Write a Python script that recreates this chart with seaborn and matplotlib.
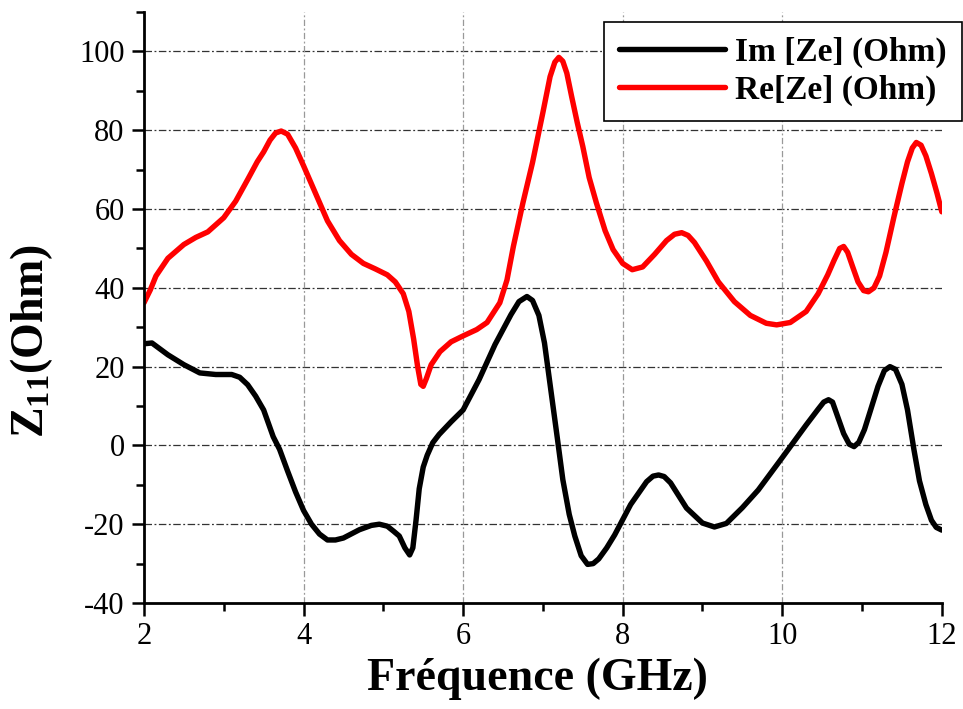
import numpy as np
import pandas as pd
import matplotlib
matplotlib.use("Agg")
import matplotlib.pyplot as plt
from matplotlib.ticker import MultipleLocator
from matplotlib.lines import Line2D
import seaborn as sns

# Imaginary part of the input impedance (Ohm) vs frequency (GHz)
freq_im = [2.0, 2.1, 2.3, 2.5, 2.7, 2.9, 3.1, 3.2, 3.3, 3.4, 3.5, 3.62, 3.7,
           3.8, 3.9, 4.0, 4.1, 4.2, 4.3, 4.4, 4.5, 4.7, 4.85, 4.95, 5.05, 5.13,
           5.2, 5.27, 5.33, 5.37, 5.41, 5.45, 5.5, 5.55, 5.62, 5.7, 5.85, 6.0,
           6.2, 6.4, 6.5, 6.6, 6.7, 6.8, 6.87, 6.95, 7.02, 7.1, 7.18, 7.25,
           7.33, 7.4, 7.48, 7.56, 7.63, 7.7, 7.8, 7.9, 8.1, 8.3, 8.38, 8.45,
           8.52, 8.6, 8.8, 9.0, 9.15, 9.3, 9.5, 9.7, 10.0, 10.3, 10.45, 10.52,
           10.58, 10.63, 10.7, 10.77, 10.84, 10.9, 10.96, 11.03, 11.1, 11.2,
           11.28, 11.35, 11.42, 11.5, 11.57, 11.65, 11.72, 11.8, 11.87, 11.93,
           12.0]
im_ze = [25.8, 26.0, 23.0, 20.5, 18.4, 18.0, 18.0, 17.3, 15.4, 12.5, 9.0, 2.2,
         -1.0, -6.5, -11.8, -16.5, -20.0, -22.5, -24.0, -24.0, -23.5, -21.4,
         -20.3, -20.0, -20.5, -21.8, -23.0, -26.0, -27.8, -26.0, -19.0, -11.0,
         -5.5, -2.5, 0.7, 2.8, 6.0, 9.0, 16.7, 25.6, 29.4, 33.2, 36.5, 37.8,
         36.8, 33.0, 26.0, 14.0, 2.0, -8.7, -17.5, -23.0, -28.0, -30.2, -30.0,
         -28.8, -26.0, -22.7, -15.0, -9.2, -7.8, -7.5, -7.9, -9.5, -15.9,
         -19.7, -20.7, -19.8, -15.8, -11.3, -3.1, 5.2, 9.2, 11.0, 11.6, 11.0,
         7.0, 3.0, 0.3, -0.3, 0.8, 4.0, 8.5, 15.0, 19.0, 20.0, 19.3, 15.5, 9.0,
         -1.0, -9.0, -15.0, -19.0, -20.8, -21.5]

# Real part of the input impedance (Ohm) vs frequency (GHz)
freq_re = [2.0, 2.08, 2.15, 2.3, 2.5, 2.65, 2.8, 3.0, 3.15, 3.3, 3.42, 3.5,
           3.58, 3.65, 3.72, 3.8, 3.9, 4.0, 4.15, 4.3, 4.45, 4.6, 4.75, 4.9,
           5.05, 5.15, 5.25, 5.32, 5.38, 5.43, 5.47, 5.5, 5.54, 5.6, 5.71,
           5.85, 6.0, 6.17, 6.3, 6.46, 6.55, 6.63, 6.75, 6.87, 7.0, 7.09, 7.15,
           7.2, 7.25, 7.3, 7.36, 7.43, 7.5, 7.58, 7.67, 7.78, 7.88, 8.0, 8.12,
           8.25, 8.4, 8.55, 8.65, 8.74, 8.82, 8.9, 9.05, 9.2, 9.4, 9.6, 9.8,
           9.93, 10.1, 10.3, 10.45, 10.57, 10.65, 10.72, 10.77, 10.82, 10.88,
           10.95, 11.02, 11.08, 11.15, 11.22, 11.3, 11.4, 11.5, 11.57, 11.63,
           11.68, 11.74, 11.8, 11.87, 11.94, 12.0]
re_ze = [36.2, 39.5, 43.0, 47.5, 51.0, 52.8, 54.2, 57.8, 62.0, 67.5, 72.0,
         74.5, 77.5, 79.3, 79.8, 79.0, 75.5, 71.0, 64.0, 57.0, 52.0, 48.5,
         46.2, 44.8, 43.3, 41.5, 38.5, 34.0, 27.0, 20.0, 15.5, 15.0, 17.0,
         20.5, 23.8, 26.3, 27.8, 29.4, 31.2, 36.2, 42.0, 50.5, 61.6, 71.8,
         84.5, 93.6, 97.3, 98.5, 97.5, 94.5, 88.6, 82.0, 75.9, 68.0, 61.6,
         54.5, 49.7, 46.2, 44.6, 45.3, 48.5, 52.0, 53.6, 54.0, 53.3, 51.5,
         46.8, 41.5, 36.5, 33.0, 31.0, 30.6, 31.2, 34.0, 38.5, 43.3, 47.0,
         50.0, 50.5, 49.0, 45.5, 41.5, 39.3, 39.0, 40.0, 43.0, 49.0, 58.0,
         66.5, 72.0, 75.5, 76.9, 76.2, 73.5, 69.0, 64.0, 59.3]

label_im = "Im [Ze] (Ohm)"
label_re = "Re[Ze] (Ohm)"

df = pd.concat([
    pd.DataFrame({"freq": freq_im, "z": im_ze, "part": label_im}),
    pd.DataFrame({"freq": freq_re, "z": re_ze, "part": label_re}),
], ignore_index=True)

sns.set_style("ticks")
plt.rcParams["font.family"] = ["Liberation Serif", "DejaVu Serif"]
plt.rcParams["mathtext.fontset"] = "custom"
plt.rcParams["mathtext.rm"] = "Liberation Serif"
plt.rcParams["mathtext.bf"] = "Liberation Serif:bold"
plt.rcParams["axes.unicode_minus"] = False
for key in ("text.color", "axes.labelcolor", "xtick.color", "ytick.color"):
    plt.rcParams[key] = "black"

fig = plt.figure(figsize=(9.63, 7.09), dpi=100)
ax = fig.add_axes([0.1495, 0.1495, 0.8285, 0.8335])

colors = {label_im: "black", label_re: "#ff0000"}
sns.lineplot(data=df, x="freq", y="z", hue="part", sort=False,
             palette=colors, linewidth=3.9, ax=ax, legend=False)
for ln in ax.lines:
    ln.set_solid_joinstyle("round")
    ln.set_solid_capstyle("round")

ax.set_xlim(2, 12)
ax.set_ylim(-40, 110)
ax.xaxis.set_major_locator(MultipleLocator(2))
ax.xaxis.set_minor_locator(MultipleLocator(1))
ax.yaxis.set_minor_locator(MultipleLocator(10))
ax.set_yticks(np.arange(-40, 101, 20))

# grid: dash-dot horizontal, light grey dash-dot vertical
for yv in np.arange(-20, 101, 20):
    ax.axhline(yv, color="#333333", lw=0.9, ls=(0, (6, 2, 1.5, 2)), zorder=0)
for xv in np.arange(4, 12, 2):
    ax.axvline(xv, color="#999999", lw=0.9, ls=(0, (5, 2, 1.5, 2)), zorder=0)

for side in ("top", "right"):
    ax.spines[side].set_visible(False)
for side in ("left", "bottom"):
    ax.spines[side].set_linewidth(2.0)
    ax.spines[side].set_color("black")

ax.tick_params(which="major", direction="out", length=9, width=1.8,
               labelsize=22, pad=5, colors="black")
ax.tick_params(which="minor", direction="out", length=6, width=1.8,
               colors="black")

ax.set_xlabel("Fréquence (GHz)", fontsize=33, fontweight="bold")
ax.xaxis.set_label_coords(0.493, -0.093)
ax.set_ylabel(r"$\mathbf{Z_{11}}$(Ohm)", fontsize=33, fontweight="bold")
ax.yaxis.set_label_coords(-0.111, 0.443)

handles = [Line2D([], [], color="black", lw=3.9, solid_capstyle="round"),
           Line2D([], [], color="#ff0000", lw=3.9, solid_capstyle="round")]
leg = ax.legend(handles, [label_im, label_re], loc="upper right",
                bbox_to_anchor=(0.999, 0.969), bbox_transform=fig.transFigure,
                frameon=True, fancybox=False, edgecolor="black",
                prop={"family": "Liberation Serif", "weight": "bold", "size": 24},
                handlelength=3.2, borderpad=0.45, labelspacing=0.2,
                handletextpad=0.3, borderaxespad=0)
leg.get_frame().set_linewidth(1.2)
leg.get_frame().set_alpha(1)

fig.savefig("out.png", dpi=100)
